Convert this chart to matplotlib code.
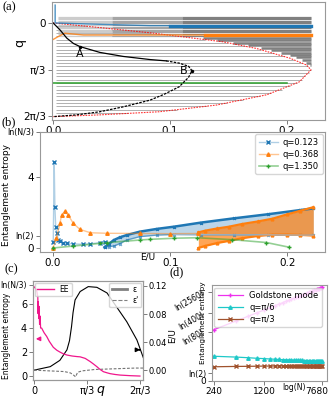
import numpy as np
import matplotlib.pyplot as plt
from matplotlib.lines import Line2D
from matplotlib.ticker import NullLocator
from matplotlib.transforms import ScaledTranslation

W, H = 332, 396

# ---------------- panel (a): spectrum rows ----------------
row_q = [0.075, 0.150, 0.224, 0.299, 0.374, 0.449, 0.524, 0.598, 0.673, 0.748,
         0.823, 0.898, 0.972, 1.047, 1.122, 1.197, 1.272, 1.346, 1.421, 1.496,
         1.571, 1.646, 1.720, 1.795, 1.870, 1.945, 2.020]
row_end = [0.029, 0.057, 0.084, 0.110, 0.130, 0.150, 0.165, 0.178, 0.188, 0.198,
           0.206, 0.213, 0.218, 0.221, 0.219, 0.216, 0.213, 0.209, 0.203, 0.196,
           0.187, 0.177, 0.163, 0.149, 0.132, 0.106, 0.064]
top_q = [-0.14, -0.11, -0.08, -0.05, -0.02, 0.01, 0.04, 0.09, 0.12, 0.15,
         0.18, 0.21, 0.24, 0.30]
stair_q = [0.33, 0.38, 0.44, 0.49, 0.56, 0.61, 0.67, 0.72, 0.77, 0.83, 0.89, 0.94]
stair_E = [0.128, 0.140, 0.154, 0.167, 0.178, 0.187, 0.195, 0.203, 0.208, 0.213,
           0.217, 0.220]
red_q = [0.0, 0.09, 0.22, 0.33, 0.42, 0.57, 0.79, 0.94, 1.05, 1.32, 1.61, 1.84,
         1.99, 2.06, 2.10]
red_E = [0.0, 0.035, 0.083, 0.117, 0.145, 0.174, 0.203, 0.217, 0.221, 0.211,
         0.183, 0.140, 0.091, 0.040, 0.0]
curve_a_E = [0.0, 0.006, 0.0117, 0.0174, 0.023, 0.040, 0.060, 0.083, 0.097, 0.108,
             0.116, 0.119, 0.116, 0.108, 0.095, 0.083, 0.060, 0.040, 0.020, 0.0]
curve_a_q = [0.0, 0.16, 0.34, 0.46, 0.53, 0.66, 0.75, 0.82, 0.85, 0.90,
             0.97, 1.07, 1.22, 1.43, 1.60, 1.73, 1.88, 1.99, 2.06, 2.10]
blue_a_E = [0.0017, 0.0017, 0.040, 0.083, 0.100, 0.221]
blue_a_q = [-0.40, 0.0, 0.03, 0.06, 0.06, 0.06]
orange_a_E = [0.0, 0.004, 0.010, 0.026, 0.130, 0.221]
orange_a_q = [0.37, 0.31, 0.23, 0.27, 0.27, 0.27]
green_a_E = [0.0, 0.10, 0.20]
green_a_q = [1.35, 1.35, 1.35]

# ---------------- panel (b): entanglement entropy vs E ----------------
blue_E = [0.0003, 0.0011, 0.0017, 0.0024, 0.0034, 0.0045, 0.006, 0.009, 0.0117,
          0.0174, 0.026, 0.032, 0.040, 0.044]
blue_S = [0.36, 4.85, 2.30, 1.20, 0.83, 0.45, 0.39, 0.30, 0.26, 0.23, 0.21, 0.24,
          0.30, 0.36]
bfan_E = [0.044, 0.048, 0.052, 0.057, 0.063, 0.074, 0.089, 0.103, 0.126, 0.154,
          0.183, 0.211, 0.222]
bfan_hi = [0.04, 0.25, 0.45, 0.60, 0.73, 0.92, 1.08, 1.20, 1.43, 1.67, 1.90, 2.14, 2.23]
bfan_lo = [0.04, 0.08, 0.11, 0.25, 0.45, 0.64, 0.73, 0.76, 0.75, 0.74, 0.74, 0.73, 0.73]
orange_E = [0.0, 0.003, 0.006, 0.0074, 0.0103, 0.013, 0.0174, 0.023, 0.032, 0.046,
            0.074, 0.100, 0.124]
orange_S = [0.0, 0.55, 1.39, 1.86, 2.08, 1.86, 1.39, 1.05, 0.86, 0.83, 0.82, 0.81, 0.82]
ofan_E = [0.124, 0.130, 0.140, 0.150, 0.161, 0.175, 0.187, 0.200, 0.211, 0.222]
ofan_hi = [0.88, 0.98, 1.10, 1.20, 1.35, 1.50, 1.65, 1.90, 2.10, 2.30]
ofan_lo = [0.0, 0.12, 0.28, 0.40, 0.55, 0.68, 0.75, 0.76, 0.74, 0.70]
green_E = [0.0, 0.017, 0.040, 0.046, 0.074, 0.083, 0.103, 0.123, 0.153, 0.182, 0.201]
green_S = [0.0, 0.11, 0.26, 0.30, 0.45, 0.49, 0.55, 0.58, 0.47, 0.31, 0.05]
b_lnN3 = 6.54

# ---------------- panel (c): EE and energies vs q ----------------
ee_q = [0.0, 0.03, 0.06, 0.075, 0.08, 0.085, 0.095, 0.10, 0.11, 0.12, 0.13, 0.15,
        0.20, 0.25, 0.30, 0.38, 0.45, 0.51, 0.58, 0.65, 0.75, 0.85, 0.91, 1.01,
        1.11, 1.18, 1.24, 1.30, 1.37, 1.44, 1.50, 1.60, 1.70, 1.90, 2.09]
ee_S = [7.44, 7.30, 7.00, 6.60, 5.20, 6.20, 4.80, 5.80, 4.30, 5.00, 4.00, 4.00,
        3.60, 3.30, 2.90, 2.40, 2.15, 2.00, 1.85, 1.75, 1.67, 1.62, 1.60, 1.47,
        1.20, 0.98, 0.78, 0.56, 0.36, 0.27, 0.20, 0.13, 0.08, 0.03, 0.0]
eps_q = [0.0, 0.32, 0.51, 0.65, 0.70, 0.74, 0.77, 0.81, 0.91, 1.07, 1.24, 1.44,
         1.63, 1.83, 2.03, 2.16]
eps_E = [0.0, 0.005, 0.014, 0.029, 0.042, 0.062, 0.082, 0.100, 0.112, 0.119, 0.118,
         0.110, 0.090, 0.069, 0.043, 0.017]
epsp_q = [0.0, 0.30, 0.60, 0.72, 0.78, 0.82, 0.86, 0.95, 1.20, 1.60, 2.00, 2.16]
epsp_E = [0.0, -0.001, -0.002, -0.004, -0.007, -0.0095, -0.003, -0.001, 0.001,
          0.002, 0.003, 0.003]
c_lnN3 = 7.6

# ---------------- panel (d): scaling with N ----------------
N_vals = [240, 480, 720, 960, 1200, 1440, 1680, 1920, 2160, 2400, 2640, 2880,
          3120, 3360, 3600, 3840, 4080, 4320, 4560, 4800, 5040, 5280, 5520, 5760,
          6000, 6240, 6480, 6720, 6960, 7200, 7440, 7680]
gold_S = [4.55, 5.30, 5.74, 6.05, 6.29, 6.49, 6.66, 6.80, 6.93, 7.04, 7.14, 7.24,
          7.33, 7.41, 7.48, 7.55, 7.62, 7.68, 7.74, 7.79, 7.84, 7.89, 7.94, 7.99,
          8.03, 8.08, 8.12, 8.16, 8.19, 8.23, 8.27, 8.30]
pi6_S = [2.19, 2.12, 2.06, 2.01, 1.98, 1.95, 1.93, 1.91, 1.89, 1.88, 1.87, 1.86,
         1.85, 1.84, 1.83, 1.82, 1.82, 1.81, 1.80, 1.80, 1.79, 1.79, 1.78, 1.78,
         1.78, 1.77, 1.77, 1.77, 1.76, 1.76, 1.76, 1.76]
pi3_S = [1.26, 1.29, 1.30, 1.31, 1.32, 1.32, 1.33, 1.33, 1.33, 1.33, 1.34, 1.34,
         1.34, 1.34, 1.34, 1.34, 1.34, 1.35, 1.35, 1.35, 1.35, 1.35, 1.35, 1.35,
         1.35, 1.35, 1.35, 1.35, 1.35, 1.35, 1.35, 1.35]

BLUE, ORANGE, GREEN = '#1f77b4', '#ff7f0e', '#2ca02c'
PINK = '#f0168c'
SPINE = '0.6'


def box(l, t, r, b):
    return [l / W, 1 - b / H, (r - l) / W, (b - t) / H]


def style(ax, fs=7.5):
    for s in ax.spines.values():
        s.set_color(SPINE)
        s.set_linewidth(0.8)
    ax.tick_params(length=3, width=0.6, color='0.4', labelsize=fs, pad=1.2)


def ftext(x, y, s, **kw):
    fig.text(x / W, 1 - y / H, s, **kw)


fig = plt.figure(figsize=(W / 100, H / 100), dpi=100)

# ---------- (a) ----------
axa = fig.add_axes(box(52, 2, 325, 120))
style(axa)
axa.hlines(row_q, 0.002, row_end, colors='#b0b0b0', lw=0.7)
axa.hlines(top_q, 0.004, 0.05, colors='#cccccc', lw=0.9)
axa.hlines(top_q, 0.05, 0.11, colors='#a5a5a5', lw=0.9)
axa.hlines(top_q, 0.11, 0.221, colors='#808080', lw=0.9)
axa.hlines(stair_q, stair_E, 0.221, colors='#808080', lw=1.8)
axa.plot(red_E, red_q, color='red', lw=0.8, ls=(0, (1.5, 1)), alpha=0.8)
axa.plot(blue_a_E, blue_a_q, color=BLUE, lw=1.0, alpha=0.8)
axa.plot(blue_a_E[4:], blue_a_q[4:], color=BLUE, lw=2.4)
axa.plot(orange_a_E, orange_a_q, color=ORANGE, lw=1.0, alpha=0.8)
axa.plot(orange_a_E[4:], orange_a_q[4:], color=ORANGE, lw=2.4)
axa.plot(green_a_E, green_a_q, color=GREEN, lw=1.1)
axa.plot(curve_a_E[:9], curve_a_q[:9], color='k', lw=0.9)
axa.plot(curve_a_E[8:], curve_a_q[8:], color='k', lw=0.9, ls=(0, (2, 1)))
axa.plot([curve_a_E[4], curve_a_E[11]], [curve_a_q[4], curve_a_q[11]], 'k.', ms=3)
axa.text(curve_a_E[4], curve_a_q[4] + 0.06, 'A', fontsize=8, ha='center', va='top')
axa.text(curve_a_E[11] - 0.004, curve_a_q[11], 'B', fontsize=8, ha='right', va='center')
axa.set_xlim(-0.001, 0.233)
axa.set_ylim(2.175, -0.47)
axa.set_xticks([0.0, 0.1, 0.2])
axa.set_yticks([0, np.pi / 3, 2 * np.pi / 3])
axa.set_yticklabels(['0', 'π/3', '2π/3'])
ftext(20, 43, 'q', fontsize=9, rotation=90, ha='center', va='center')

# ---------- (b) ----------
axb = fig.add_axes(box(40, 132, 325, 252))
style(axb)
axb.fill_between(bfan_E, bfan_lo, bfan_hi, color=BLUE, alpha=0.3, lw=0)
axb.plot(bfan_E, bfan_hi, color=BLUE, lw=1.8, marker='x', ms=2)
axb.plot(bfan_E, bfan_lo, color=BLUE, lw=1.0, alpha=0.6, marker='x', ms=2)
axb.fill_between(ofan_E, ofan_lo, ofan_hi, color=ORANGE, alpha=0.7, lw=0)
axb.plot(ofan_E, ofan_hi, color=ORANGE, lw=1.6, marker='^', ms=2)
axb.plot(ofan_E, ofan_lo, color=ORANGE, lw=1.6, marker='^', ms=2)
axb.plot(bfan_E[7:], bfan_lo[7:], color='#9fbcd6', lw=0.8)
axb.plot(blue_E, blue_S, color=(0.12, 0.47, 0.71, 0.35), marker='x', ms=2.5,
         mec=BLUE, mfc=BLUE, lw=1.0, label='q=0.123')
axb.plot(orange_E, orange_S, color=(1.0, 0.5, 0.05, 0.45), marker='^', ms=2.5,
         mec=ORANGE, mfc=ORANGE, lw=1.0, label='q=0.368')
axb.plot(green_E, green_S, color=(0.17, 0.63, 0.17, 0.5), marker='+', ms=2.5,
         mec=GREEN, mfc=GREEN, lw=1.2, label='q=1.350')
axb.set_xlim(-0.011, 0.232)
axb.set_ylim(-0.225, b_lnN3)
axb.set_xticks([0.0, 0.1, 0.2])
axb.set_yticks([0, np.log(2), 4, b_lnN3])
axb.set_yticklabels(['0', 'ln(2)', '4', 'ln(N/3)'])
for lab, fs in zip(axb.get_yticklabels(), [7.5, 5.8, 7.5, 5.8]):
    lab.set_fontsize(fs)
axb.legend(loc='upper right', fontsize=6, handlelength=2.3, borderaxespad=0.3,
           handletextpad=0.6, labelspacing=0.35)
ftext(7, 195, 'Entanglement entropy', fontsize=6.5, rotation=90, ha='center', va='center')
ftext(148, 257, 'E/U', fontsize=6.5, ha='center', va='center')

# ---------- (c) ----------
axc = fig.add_axes(box(33, 281, 143, 380))
style(axc, 7)
axc2 = axc.twinx()
style(axc2, 6)
axc2.plot(eps_q, eps_E, color='k', lw=0.8)
axc2.plot(epsp_q, epsp_E, color='0.45', lw=0.8, ls=(0, (2.5, 1.5)))
axc.plot(ee_q, ee_S, color=PINK, lw=0.9)
axc.set_zorder(axc2.get_zorder() + 1)
axc.patch.set_visible(False)
axc.set_xlim(-0.02, 2.15)
axc.set_ylim(-0.33, 7.92)
axc2.set_ylim(-0.014, 0.127)
axc.set_xticks([0, np.pi / 3, 2 * np.pi / 3])
axc.set_xticklabels(['0', 'π/3', '2π/3'])
axc.set_yticks([0, 2, 4, 6, c_lnN3])
axc.set_yticklabels(['0', '2', '4', '6', 'ln(N/3)'])
axc.get_yticklabels()[-1].set_fontsize(5.6)
axc2.set_yticks([0.0, 0.04, 0.08, 0.12])
axc2.set_yticklabels(['0.00', '0.04', '0.08', '0.12'])
axc.legend([Line2D([], [], color=PINK, lw=1)], ['EE'], loc='upper left', fontsize=5.5,
           handlelength=2.2, borderaxespad=0.2, borderpad=0.3)
axc2.legend([Line2D([], [], color='0.5', lw=2), Line2D([], [], color='0.5', lw=0.8, ls='--')],
            ['ε', "ε'"], loc='upper right', fontsize=5.5, handlelength=2.0,
            borderaxespad=0.2, borderpad=0.3, labelspacing=0.3)
axc.annotate('', xy=(-0.02, 3.1), xytext=(0.17, 3.1),
             arrowprops=dict(arrowstyle='-|>', color=PINK, lw=1, mutation_scale=6))
axc2.annotate('', xy=(2.15, 0.029), xytext=(2.03, 0.029),
              arrowprops=dict(arrowstyle='-|>', color='k', lw=1, mutation_scale=6))
ftext(7, 336, 'Entanglement entropy', fontsize=5.5, rotation=90, ha='center', va='center')
ftext(172, 336, 'E/U', fontsize=6.3, rotation=90, ha='center', va='center')
ftext(100, 389, 'q', fontsize=9, style='italic', ha='center', va='center')

# ---------- (d) ----------
axd = fig.add_axes(box(212, 285, 327, 381))
style(axd, 6.5)
axd.plot(N_vals, gold_S, color='#ee30ee', lw=0.9, marker='+', ms=3, label='Goldstone mode')
axd.plot(N_vals, pi6_S, color='#1ec8c8', lw=0.9, marker='^', ms=2.5, label='q=π/6')
axd.plot(N_vals, pi3_S, color='#a0522d', lw=0.9, marker='x', ms=2.5, label='q=π/3')
axd.set_xscale('log')
axd.set_xlim(225, 9000)
axd.set_ylim(0, 8.5)
axd.set_xticks([240, 1200, 7680])
axd.set_xticklabels(['240', '1200', '7680'])
axd.xaxis.set_minor_locator(NullLocator())
last = axd.get_xticklabels()[-1]
last.set_transform(last.get_transform() + ScaledTranslation(-5 / 100, 0, fig.dpi_scale_trans))
axd.set_yticks([0, np.log(2), np.log(80), np.log(400), np.log(2560)])
axd.set_yticklabels(['0', 'ln(2)', 'ln(80)', 'ln(400)', 'ln(2560)'])
for i, lab in enumerate(axd.get_yticklabels()):
    lab.set_fontsize(6.5 if i == 0 else 5.6)
    if i >= 2:
        lab.set_rotation(30)
axd.legend(loc='upper left', fontsize=6, handlelength=3.0, borderaxespad=0.3,
           labelspacing=0.35)
ftext(203, 323, 'Entanglement entropy', fontsize=5.3, rotation=90, ha='center', va='center')
ftext(294, 388, 'log(N)', fontsize=5.5, ha='center', va='center')

# panel labels
for x, y, s in [(9, 7, '(a)'), (9, 122, '(b)'), (11, 269, '(c)'), (177, 272, '(d)')]:
    ftext(x, y, s, fontsize=9, family='Liberation Serif', ha='center', va='center')

fig.savefig('out.png', dpi=100)
